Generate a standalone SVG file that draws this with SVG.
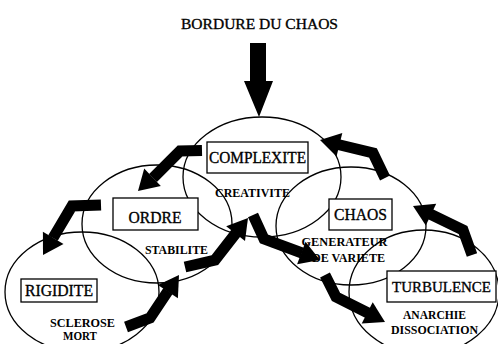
<svg xmlns="http://www.w3.org/2000/svg" width="498" height="344" viewBox="0 0 498 344">
<style>
.el{fill:none;stroke:#000;stroke-width:1.3}
.bx{fill:#fff;stroke:#000;stroke-width:1.3}
text{font-family:"Liberation Serif","Times New Roman",serif;fill:#000;text-anchor:middle;stroke:#000;stroke-width:0.35}
.big{font-size:16.5px}
.sm{font-size:12.5px;font-weight:bold;stroke-width:0}
.sh{fill:none;stroke:#000;stroke-width:11;stroke-linejoin:miter;stroke-linecap:butt}
.hd{fill:#000;stroke:none}
</style>
<rect width="498" height="344" fill="#fff"/>
<text x="259.5" y="29" style="font-size:15px" textLength="157" lengthAdjust="spacingAndGlyphs">BORDURE DU CHAOS</text>
<g id="node-complexite">
<ellipse class="el" cx="262" cy="177" rx="79" ry="60"/>
<rect class="bx" x="207" y="142" width="101" height="31"/>
<text class="big" x="257.5" y="163" textLength="97" lengthAdjust="spacingAndGlyphs">COMPLEXITE</text>
<text class="sm" x="252.5" y="197" textLength="75" lengthAdjust="spacingAndGlyphs">CREATIVITE</text>
</g>
<g id="node-ordre">
<ellipse class="el" cx="157" cy="224" rx="75" ry="59"/>
<rect class="bx" x="113" y="198" width="85" height="32"/>
<text class="big" x="155" y="223" textLength="53" lengthAdjust="spacingAndGlyphs">ORDRE</text>
<text class="sm" x="176.5" y="254" textLength="63" lengthAdjust="spacingAndGlyphs">STABILITE</text>
</g>
<g id="node-rigidite">
<ellipse class="el" cx="82" cy="292" rx="77" ry="60"/>
<rect class="bx" x="21" y="279" width="76" height="23"/>
<text class="big" x="59" y="296" textLength="68" lengthAdjust="spacingAndGlyphs">RIGIDITE</text>
<text class="sm" x="82.5" y="327" textLength="65" lengthAdjust="spacingAndGlyphs">SCLEROSE</text>
<text class="sm" x="80" y="340" textLength="34" lengthAdjust="spacingAndGlyphs">MORT</text>
</g>
<g id="node-chaos">
<ellipse class="el" cx="351" cy="226" rx="75" ry="59"/>
<rect class="bx" x="329" y="199" width="63" height="31"/>
<text class="big" x="360.5" y="220" textLength="53" lengthAdjust="spacingAndGlyphs">CHAOS</text>
<text class="sm" x="344.5" y="246" textLength="86" lengthAdjust="spacingAndGlyphs">GENERATEUR</text>
<text class="sm" x="348.5" y="262" textLength="73" lengthAdjust="spacingAndGlyphs">DE VARIETE</text>
</g>
<g id="node-turbulence">
<ellipse class="el" cx="424" cy="292" rx="75" ry="62"/>
<rect class="bx" x="387" y="271" width="109" height="31"/>
<text x="441.5" y="292" style="font-size:15.5px" textLength="99" lengthAdjust="spacingAndGlyphs">TURBULENCE</text>
<text class="sm" x="434.5" y="319" textLength="63" lengthAdjust="spacingAndGlyphs">ANARCHIE</text>
<text class="sm" x="434.5" y="334" textLength="87" lengthAdjust="spacingAndGlyphs">DISSOCIATION</text>
</g>
<g id="connectors">
<polygon class="hd" points="250,43 266,43 266,81 273,81 259,117 244,81 250,81"/>
<polyline class="sh" points="202,150.5 180,151 153,178"/>
<polygon class="hd" points="138,191 160.8,185.9 144.2,168.5"/>
<polyline class="sh" points="101,205 72,206 53,238"/>
<polygon class="hd" points="43,255 63.5,243.9 42.9,231.7"/>
<polyline class="sh" points="126,327 150,318 168,291"/>
<polygon class="hd" points="179,275 177.9,298.3 157.9,284.9"/>
<polyline class="sh" points="185,267 215,260 236,233"/>
<polygon class="hd" points="248,218 245,241.1 226.2,226.3"/>
<polyline class="sh" points="253,215 264,239 302,253"/>
<polygon class="hd" points="320,260 297.1,264.2 305.5,241.8"/>
<polyline class="sh" points="325,275 336,297 368,313"/>
<polygon class="hd" points="385,322 361.7,323.6 372.7,302.2"/>
<polyline class="sh" points="472,255 463,230 430,214"/>
<polygon class="hd" points="413,206 436.2,203.8 425.8,225.4"/>
<polyline class="sh" points="385,178 373,153 338,144.5"/>
<polygon class="hd" points="320,140 342.3,133.1 336.5,156.5"/>
</g>
</svg>
